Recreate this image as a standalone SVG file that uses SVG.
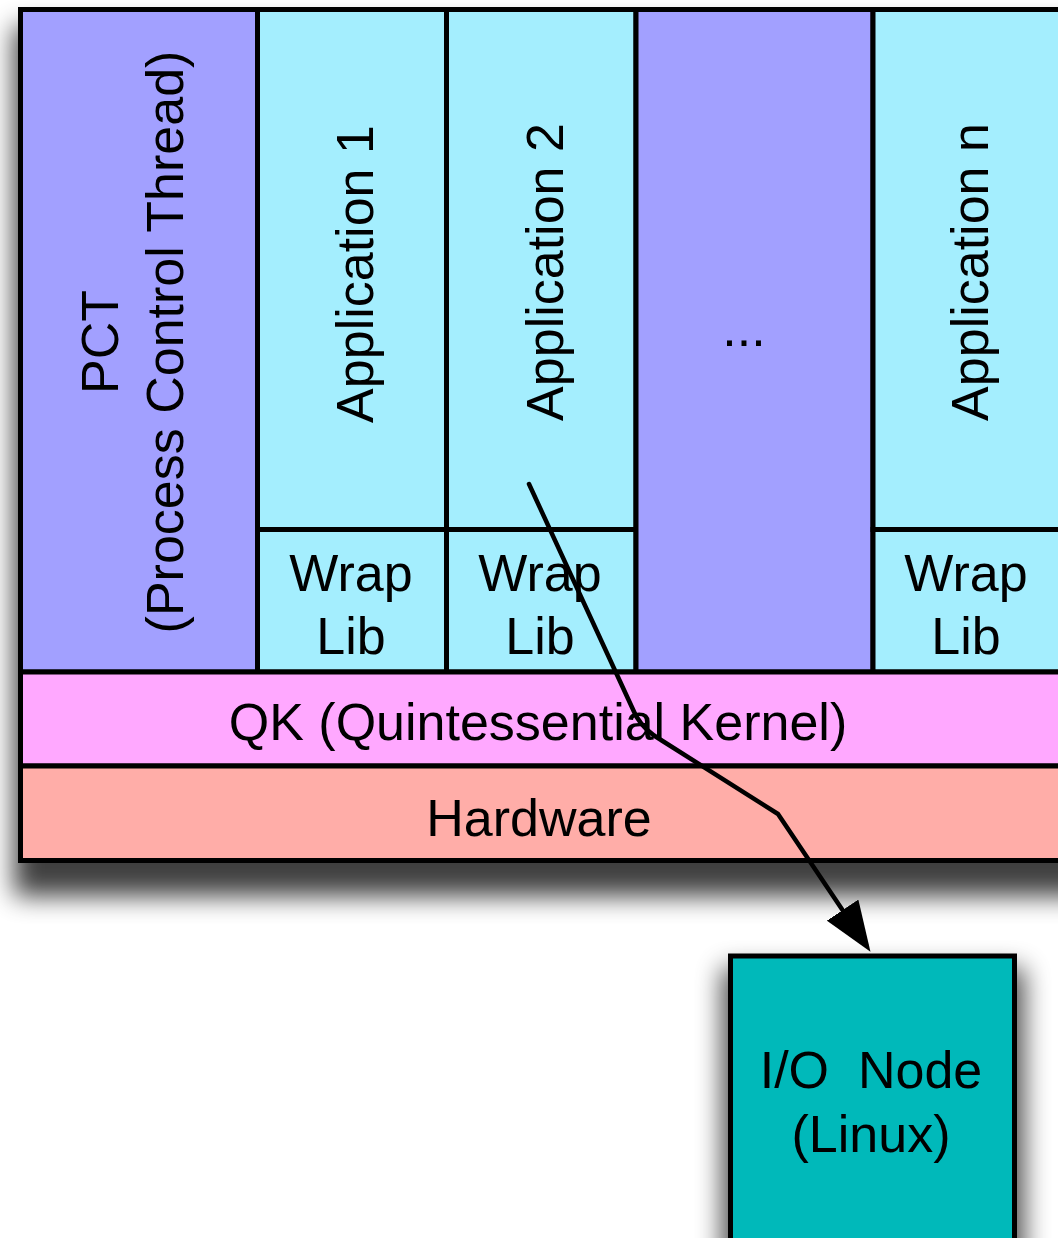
<svg xmlns="http://www.w3.org/2000/svg" width="1058" height="1238" viewBox="0 0 1058 1238">
<style>
.t{font-family:"Liberation Sans",Arial,Helvetica,sans-serif;font-size:52px;fill:#000;text-anchor:middle}
.b{stroke:#000;stroke-width:5}
.pur{fill:#A2A0FF}
.cy{fill:#A4EEFE}
.pk{fill:#FFA8FF}
.hw{fill:#FFADA8}
.io{fill:#00B9BA}
.ln{stroke:#000;stroke-width:4.5;fill:none}
</style>
<defs>
<filter id="sh" x="-20%" y="-20%" width="140%" height="140%">
<feGaussianBlur stdDeviation="13"/>
</filter>
<marker id="ah" viewBox="0 0 50 38" refX="42" refY="19" markerWidth="50" markerHeight="38" markerUnits="userSpaceOnUse" orient="auto">
<path d="M0,0 L50,19 L0,38 z" fill="#000"/>
</marker>
</defs>
<rect x="14" y="26" width="1100" height="870" fill="#000" opacity="0.75" filter="url(#sh)"/>
<rect x="722" y="968" width="302" height="320" fill="#000" opacity="0.7" filter="url(#sh)"/>
<g id="pct">
<rect class="pur b" x="20.5" y="9.5" width="237" height="662.5"/>
<text class="t" transform="translate(118,342) rotate(-90)">PCT</text>
<text class="t" transform="translate(183,342) rotate(-90)">(Process Control Thread)</text>
</g>
<g id="app1">
<rect class="cy b" x="257.5" y="9.5" width="189" height="520"/>
<text class="t" transform="translate(373,274) rotate(-90)">Application 1</text>
</g>
<g id="wrap1">
<rect class="cy b" x="257.5" y="529.5" width="189" height="142.5"/>
<text class="t" x="351" y="591">Wrap</text>
<text class="t" x="351" y="654">Lib</text>
</g>
<g id="app2">
<rect class="cy b" x="446.5" y="9.5" width="189.5" height="520"/>
<text class="t" transform="translate(563,272) rotate(-90)">Application 2</text>
</g>
<g id="wrap2">
<rect class="cy b" x="446.5" y="529.5" width="189.5" height="142.5"/>
<text class="t" x="540" y="591">Wrap</text>
<text class="t" x="540" y="654">Lib</text>
</g>
<g id="dots">
<rect class="pur b" x="636" y="9.5" width="237" height="662.5"/>
<text class="t" x="744" y="346">...</text>
</g>
<g id="appn">
<rect class="cy b" x="873" y="9.5" width="250" height="520"/>
<text class="t" transform="translate(988,272) rotate(-90)">Application n</text>
</g>
<g id="wrapn">
<rect class="cy b" x="873" y="529.5" width="250" height="142.5"/>
<text class="t" x="966" y="591">Wrap</text>
<text class="t" x="966" y="654">Lib</text>
</g>
<g id="qk">
<rect class="pk b" x="20.5" y="672" width="1100" height="94"/>
<text class="t" x="538" y="740">QK (Quintessential Kernel)</text>
</g>
<g id="hardware">
<rect class="hw b" x="20.5" y="766" width="1100" height="94.5"/>
<text class="t" x="539" y="836">Hardware</text>
</g>
<g id="ionode">
<rect class="io b" x="730.5" y="956" width="284" height="330"/>
<text class="t" x="871" y="1088" xml:space="preserve">I/O  Node</text>
<text class="t" x="871" y="1152">(Linux)</text>
</g>
<g id="connectors">
<path class="ln" stroke-linecap="round" stroke-linejoin="round" d="M529,484 L636,716 Q645,731 661,740 L778,814 L866,945" marker-end="url(#ah)"/>
</g>
</svg>
